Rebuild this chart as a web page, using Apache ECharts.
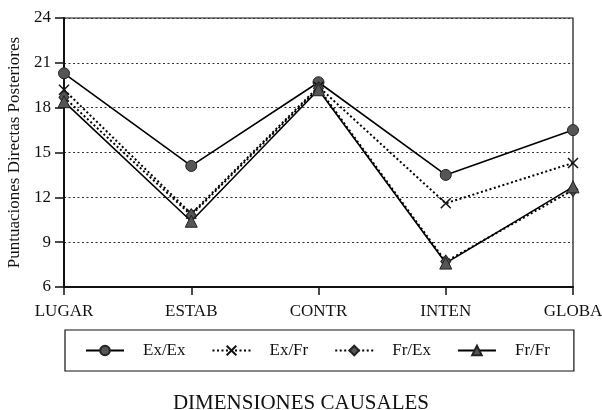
<!DOCTYPE html>
<html><head><meta charset="utf-8">
<script src="https://cdn.jsdelivr.net/npm/echarts@6/dist/echarts.min.js"></script>
<style>html,body{margin:0;padding:0;background:#fff}#c{width:602px;height:410px}</style>
</head><body><div id="c"></div>
<script>
const categories = ['LUGAR', 'ESTAB', 'CONTR', 'INTEN', 'GLOBA'];
const exEx = [20.3, 14.1, 19.7, 13.5, 16.5];
const exFr = [19.2, 10.9, 19.4, 11.6, 14.3];
const frEx = [18.7, 10.8, 19.3, 7.7, 12.5];
const frFr = [18.4, 10.4, 19.2, 7.6, 12.7];
const yTicks = [6, 9, 12, 15, 18, 21, 24];
const seriesNames = ['Ex/Ex', 'Ex/Fr', 'Fr/Ex', 'Fr/Fr'];

const font = 'Liberation Serif';
const chart = echarts.init(document.getElementById('c'), null, {renderer: 'canvas'});
const fill = '#555';
function mk(name, data, dotted, symbol, size, itemStyle) {
  return {
    name, type: 'line', data, symbol, symbolSize: size,
    lineStyle: {color: '#000', width: dotted ? 2 : 1.6, type: dotted ? [2, 2.5] : 'solid'},
    itemStyle, emphasis: {disabled: true}, z: 3
  };
}
chart.setOption({
  animation: false,
  backgroundColor: '#fff',
  textStyle: {fontFamily: font, color: '#000'},
  title: {
    text: 'DIMENSIONES CAUSALES', left: 'center', top: 388,
    textStyle: {fontFamily: font, fontSize: 21, fontWeight: 'normal', color: '#111'}
  },
  grid: {left: 64, right: 29, top: 18, bottom: 123, show: true, borderColor: '#111', borderWidth: 1.2,
    outerBoundsMode: 'none', containLabel: false},
  legend: {
    data: seriesNames, left: 65, top: 330, width: 580,
    padding: [12, 24, 12, 20], itemGap: 26, itemWidth: 38, itemHeight: 12,
    borderColor: '#111', borderWidth: 1.2,
    textStyle: {fontFamily: font, fontSize: 17, color: '#111', padding: [0, 0, 0, 14]}
  },
  xAxis: {
    type: 'category', data: categories, boundaryGap: false,
    axisLine: {lineStyle: {color: '#111', width: 2}},
    axisTick: {alignWithLabel: true, length: 8, inside: false, lineStyle: {color: '#111', width: 1.5}},
    axisLabel: {fontFamily: font, fontSize: 17, color: '#111', margin: 16, interval: 0},
    splitLine: {show: false}
  },
  yAxis: {
    type: 'value', min: 6, max: 24, interval: 3,
    name: 'Puntuaciones Directas Posteriores', nameLocation: 'middle', nameGap: 39, nameRotate: 90,
    nameTextStyle: {fontFamily: font, fontSize: 17, color: '#111'},
    axisLine: {show: true, lineStyle: {color: '#111', width: 2}},
    axisTick: {show: true, length: 9, lineStyle: {color: '#111', width: 1.5}},
    axisLabel: {fontFamily: font, fontSize: 17, color: '#111', margin: 13,
      formatter: v => yTicks.includes(v) ? String(v) : ''},
    splitLine: {show: true, lineStyle: {color: '#333', width: 1.2, type: [2, 2.5]}}
  },
  series: [
    mk('Ex/Ex', exEx, false, 'circle', 11, {color: fill, borderColor: '#222', borderWidth: 1}),
    mk('Ex/Fr', exFr, true, 'path://M0,0L10,10M10,0L0,10', 10, {color: 'none', borderColor: '#111', borderWidth: 1.5}),
    mk('Fr/Ex', frEx, true, 'diamond', [10, 13], {color: fill, borderColor: '#222', borderWidth: 1}),
    mk('Fr/Fr', frFr, false, 'triangle', 12, {color: fill, borderColor: '#222', borderWidth: 1})
  ]
});
</script></body></html>
